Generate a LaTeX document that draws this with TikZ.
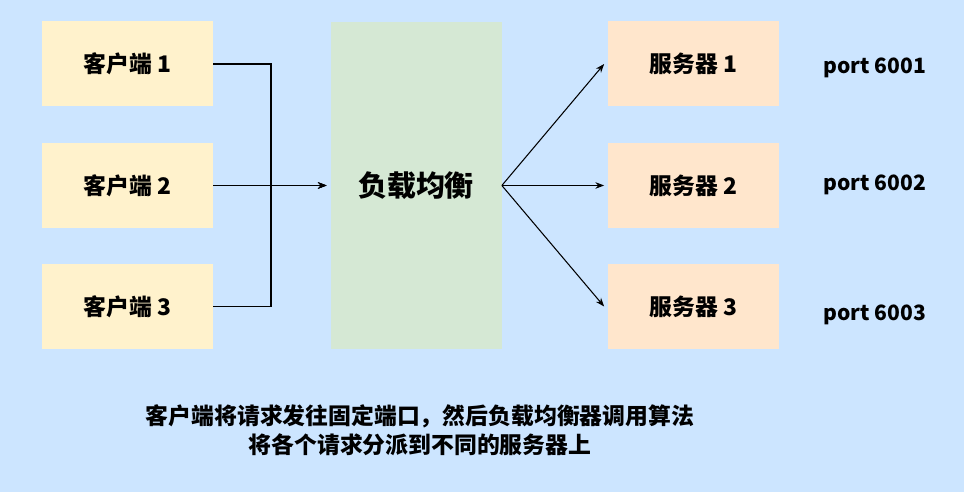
\documentclass[tikz,border=0pt]{standalone}
\usepackage{fontspec}
\setmainfont{Noto Sans CJK SC}
\usetikzlibrary{arrows.meta}
\definecolor{bgblue}{HTML}{CCE5FF}
\definecolor{clientfill}{HTML}{FFF2CC}
\definecolor{lbfill}{HTML}{D5E8D4}
\definecolor{serverfill}{HTML}{FFE6CC}
\tikzset{
  box/.style = {minimum width = 171*0.02cm, minimum height = 85*0.02cm, inner sep = 0pt, font = \fontsize{13}{15}\selectfont\bfseries},
  link/.style = {draw = black, line width = 0.6pt, -{Stealth[length=5pt]}}
}
\begin{document}
\begin{tikzpicture}[x = 0.02cm, y = -0.02cm]
\fill[bgblue] (0,0) rectangle (964,492);
\node[box, fill = clientfill] (c1) at (127.5,64) {客户端 1};
\node[box, fill = clientfill] (c2) at (127.5,185.5) {客户端 2};
\node[box, fill = clientfill] (c3) at (127.5,306.5) {客户端 3};
\node[box, fill = lbfill, minimum height = 327*0.02cm, font = \fontsize{16.5}{18}\selectfont\bfseries] (lb) at (416,185.5) {负载均衡};
\node[box, fill = serverfill] (s1) at (693.5,64) {服务器 1};
\node[box, fill = serverfill] (s2) at (693.5,185.5) {服务器 2};
\node[box, fill = serverfill] (s3) at (693.5,306.5) {服务器 3};
\foreach \n/\y in {1/68,2/185,3/315}
  \node[font = \fontsize{12}{14}\selectfont\bfseries] (p\n) at (875,\y) {port 600\n};
\coordinate (in) at ([xshift=-2pt]lb.west);
\draw[link] (c1.east) -- (271,64) |- (in);
\draw[link] (c3.east) -- (271,306.5) |- (in);
\draw[link] (c2.east) -- (in);
\foreach \n in {1,2,3}
  \draw[link] (lb.east) -- ([xshift=-2pt]s\n.west);
\node[align = center, font = \fontsize{13}{16.5}\selectfont\bfseries] (note) at (420,430) {客户端将请求发往固定端口，然后负载均衡器调用算法\\将各个请求分派到不同的服务器上};
\end{tikzpicture}
\end{document}
